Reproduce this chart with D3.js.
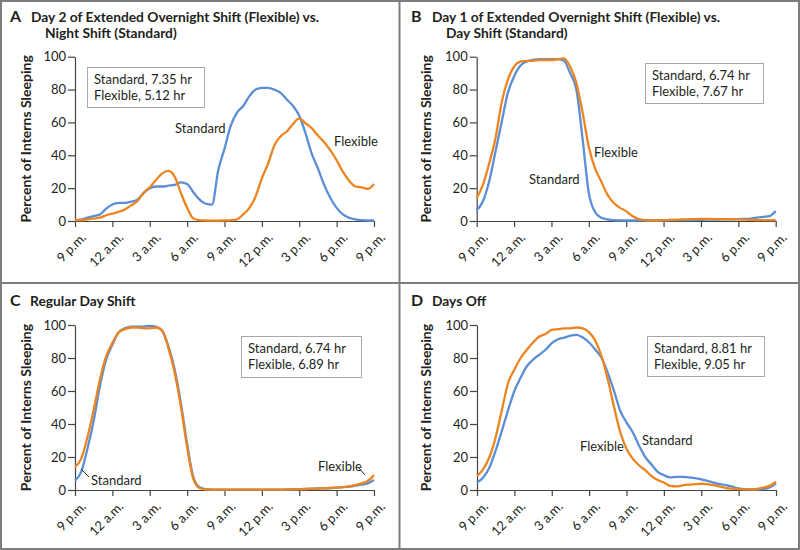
<!DOCTYPE html>
<html>
<head>
<meta charset="utf-8">
<script src="https://cdn.jsdelivr.net/npm/d3@7/dist/d3.min.js"></script>
<style>
  html, body { margin: 0; padding: 0; background: #fff; }
  svg { display: block; }
  text { font-family: Lato, "Noto Sans", sans-serif; fill: #231f20; }
</style>
</head>
<body>
<svg id="chart" width="800" height="550"></svg>
<script>
// hours elapsed since 9 p.m. (sampled every 30 minutes)
const hours = [0,0.5,1,1.5,2,2.5,3,3.5,4,4.5,5,5.5,6,6.5,7,7.5,8,8.5,9,9.5,10,10.5,11,11.5,12,12.5,13,13.5,14,14.5,15,15.5,16,16.5,17,17.5,18,18.5,19,19.5,20,20.5,21,21.5,22,22.5,23,23.5,24];
const tickHours = [0,3,6,9,12,15,18,21,24];
const tickLabels = ["9 p.m.","12 a.m.","3 a.m.","6 a.m.","9 a.m.","12 p.m.","3 p.m.","6 p.m.","9 p.m."];
const yTicks = [0,20,40,60,80,100];

// Panel A: Day 2 of extended overnight shift (Flexible) vs night shift (Standard)
const aStandard = [0.5,1,2,3,4,7.5,10,11,11,11.7,13,17,20,21,21,21.5,22,23.5,22.5,17.5,13,10.5,10,31,44,58,66,70,76,80,81,81,80,78,74,70,64,53.5,41,32,22,14,8,4,2,1,0.5,0.3,0.3];
const aFlexible = [0.5,0.5,1,1.5,2,3.5,4.5,5.5,7,9.5,12,17,20.5,25,29,30.5,27,17,8,1.5,0.5,0.3,0.2,0.2,0.3,0.5,1,4,8,15,26,35,46,51.5,54.5,59,62.5,59.5,56.5,52,48,43,37,30,24.5,21,20.5,19.5,22.5];
// Panel B: Day 1 of extended overnight shift (Flexible) vs day shift (Standard)
const bStandard = [6.5,12,24,42,60,78,88,94.5,97,98,98.5,98.5,98.5,98.5,97.5,90,80,50,17,5.5,2,1,0.5,0.3,0.3,0.3,0.3,0.3,0.3,0.3,0.3,0.4,0.5,0.5,0.6,0.6,0.7,0.8,0.8,0.9,1,1,1.2,1.3,1.5,2,2.5,3,6];
const bFlexible = [14,22,35,50,72,86,94,97,97.5,97.5,98,98,98,98.5,99,94,84,66,45,32,24,16,11,8,6,3,1.2,0.5,0.3,0.3,0.5,0.7,0.8,1,1,1.2,1.3,1.3,1.2,1.2,1.2,1,1,0.8,0.7,0.6,0.5,0.5,0.5];
// Panel C: Regular day shift
const cStandard = [5.7,11,25,42,63,79,88,95.5,98,99,99,99,99.5,99,96.5,87,73,52.5,28,7.8,1.6,0.5,0.2,0.2,0.2,0.2,0.2,0.2,0.2,0.2,0.2,0.2,0.2,0.2,0.3,0.4,0.5,0.6,0.8,0.9,1,1.2,1.5,1.7,2,2.6,3.2,4,6];
const cFlexible = [14,19,32,48.5,67,81,89,95.5,97.5,98.5,98.5,98,98,98.5,96.5,86,71,50.5,26,6.7,1.2,0.3,0.2,0.2,0.2,0.2,0.2,0.2,0.2,0.2,0.2,0.2,0.2,0.2,0.3,0.4,0.5,0.6,0.8,0.9,1,1.2,1.5,1.8,2.2,3,4,5.5,9];
// Panel D: Days off
const dStandard = [4.5,7.6,13.7,24,36,48.5,60,68,75,79,82,85,89,91.4,92.4,93.5,94,92.4,89.4,85,80,71,60,48,41,35,27,20,15.5,11,9,7.6,8,8,7.6,7.2,6.5,5.5,4.5,3.5,3,2,1,0.5,0.4,0.3,0.5,1.5,4];
const dFlexible = [8.6,12.7,20,32,48.5,65,73,80,85,89.4,93,94.5,97,97.5,98,98,98.5,98,95.5,90.4,81,67,50.5,35,25,19,15,12,8.5,6,4.5,2.5,2.2,2.8,3.2,3.5,3.8,3.5,3,2,1.2,0.8,0.5,0.4,0.4,0.7,1.5,2.5,5];

const panelLetters = ["A","B","C","D"];
const panelTitles = [
  ["Day 2 of Extended Overnight Shift (Flexible) vs.","Night Shift (Standard)"],
  ["Day 1 of Extended Overnight Shift (Flexible) vs.","Day Shift (Standard)"],
  ["Regular Day Shift"],
  ["Days Off"]
];
const standardHours = ["7.35","6.74","6.74","8.81"];
const flexibleHours = ["5.12","7.67","6.89","9.05"];
const seriesNames = ["Standard","Flexible"];
const yAxisTitle = "Percent of Interns Sleeping";

const blue = "#5b8ed4", orange = "#ec8420";

const svg = d3.select("#chart");

// frame
svg.append("rect").attr("x",1).attr("y",1).attr("width",798).attr("height",548)
  .attr("fill","none").attr("stroke","#7d7d7d").attr("stroke-width",2);
svg.append("line").attr("x1",399.5).attr("x2",399.5).attr("y1",0).attr("y2",550)
  .attr("stroke","#7d7d7d").attr("stroke-width",2);
svg.append("line").attr("x1",0).attr("x2",800).attr("y1",283).attr("y2",283)
  .attr("stroke","#7d7d7d").attr("stroke-width",2);

const layouts = [
  {ox:0,   oy:0,   left:75,  right:374, top:56.7, bottom:221,
   box:{x:87,y:67,w:117,h:40}, letter:{x:10,y:21.5}, title:{x:31,y:21.5,x2:45},
   seriesA:aStandard, seriesB:aFlexible,
   labels:[{t:"Standard",x:175,y:133},{t:"Flexible",x:334,y:146}]},
  {ox:400, oy:0,   left:476.7, right:775.7, top:56.7, bottom:221,
   box:{x:645,y:63,w:118,h:40}, letter:{x:411,y:21.5}, title:{x:432,y:21.5,x2:446},
   seriesA:bStandard, seriesB:bFlexible,
   labels:[{t:"Flexible",x:594,y:157},{t:"Standard",x:529,y:184}]},
  {ox:0,   oy:283, left:75,  right:374, top:325, bottom:490,
   box:{x:241,y:336,w:120,h:41}, letter:{x:10,y:306}, title:{x:30,y:306},
   seriesA:cStandard, seriesB:cFlexible,
   labels:[{t:"Standard",x:91,y:485,lx1:81,ly1:469,lx2:89,ly2:477},{t:"Flexible",x:318,y:471,lx1:358,ly1:467,lx2:365,ly2:475}]},
  {ox:400, oy:283, left:477, right:776, top:325, bottom:490,
   box:{x:647,y:336,w:117,h:40}, letter:{x:411,y:306}, title:{x:432,y:306},
   seriesA:dStandard, seriesB:dFlexible,
   labels:[{t:"Flexible",x:580,y:451},{t:"Standard",x:642,y:445}]}
];

layouts.forEach((L, i) => {
  const g = svg.append("g");
  const x = d3.scaleLinear().domain([0,24]).range([L.left, L.right]);
  const y = d3.scaleLinear().domain([0,100]).range([L.bottom, L.top]);

  // title
  g.append("text").attr("x",L.letter.x).attr("y",L.letter.y)
    .style("font-size","16px").style("font-weight","700").text(panelLetters[i]);
  panelTitles[i].forEach((t, k) => {
    g.append("text").attr("x", k === 0 ? L.title.x : L.title.x2)
      .attr("y", L.title.y + k*16)
      .style("font-size","13.8px").style("font-weight","700").text(t);
  });

  // y axis
  const ya = g.append("g").attr("transform",`translate(${L.left},0)`)
    .call(d3.axisLeft(y).tickValues(yTicks).tickSize(7).tickPadding(2).tickSizeOuter(0));
  // x axis
  const xa = g.append("g").attr("transform",`translate(0,${L.bottom})`)
    .call(d3.axisBottom(x).tickValues(tickHours).tickFormat((d,j)=>tickLabels[j]).tickSize(6).tickSizeOuter(0));
  [ya, xa].forEach(a => {
    a.select(".domain").attr("stroke","#444").attr("stroke-width",1.2);
    a.selectAll(".tick line").attr("stroke","#444").attr("stroke-width",1.2);
    a.selectAll(".tick text").style("font-family","Lato, sans-serif").style("font-size","13px").attr("fill","#231f20");
  });
  xa.selectAll(".tick text")
    .attr("text-anchor","end").attr("dy","0").attr("dx","0")
    .attr("transform","translate(5,11) rotate(-45)");

  // y title
  g.append("text")
    .attr("transform",`translate(${L.ox+31},${(L.top+L.bottom)/2}) rotate(-90)`)
    .attr("text-anchor","middle")
    .style("font-size","14px").style("font-weight","700").text(yAxisTitle);

  // lines
  const line = d3.line().x((d,j)=>x(hours[j])).y(d=>y(d)).curve(d3.curveMonotoneX);
  g.append("path").datum(L.seriesA).attr("d",line)
    .attr("fill","none").attr("stroke",blue).attr("stroke-width",2.3).attr("stroke-linejoin","round");
  g.append("path").datum(L.seriesB).attr("d",line)
    .attr("fill","none").attr("stroke",orange).attr("stroke-width",2.3).attr("stroke-linejoin","round");

  // legend box
  g.append("rect").attr("x",L.box.x+0.5).attr("y",L.box.y+0.5).attr("width",L.box.w).attr("height",L.box.h)
    .attr("fill","#fff").attr("stroke","#a8a8a8").attr("stroke-width",1);
  g.append("text").attr("x",L.box.x+7).attr("y",L.box.y+17)
    .style("font-size","13px").text(`${seriesNames[0]}, ${standardHours[i]} hr`);
  g.append("text").attr("x",L.box.x+7).attr("y",L.box.y+33)
    .style("font-size","13px").text(`${seriesNames[1]}, ${flexibleHours[i]} hr`);

  // inline labels
  L.labels.forEach(lb => {
    g.append("text").attr("x",lb.x).attr("y",lb.y).style("font-size","13px").text(lb.t);
    if (lb.lx1 !== undefined) {
      g.append("line").attr("x1",lb.lx1).attr("y1",lb.ly1).attr("x2",lb.lx2).attr("y2",lb.ly2)
        .attr("stroke","#231f20").attr("stroke-width",1);
    }
  });
});
</script>
</body>
</html>
